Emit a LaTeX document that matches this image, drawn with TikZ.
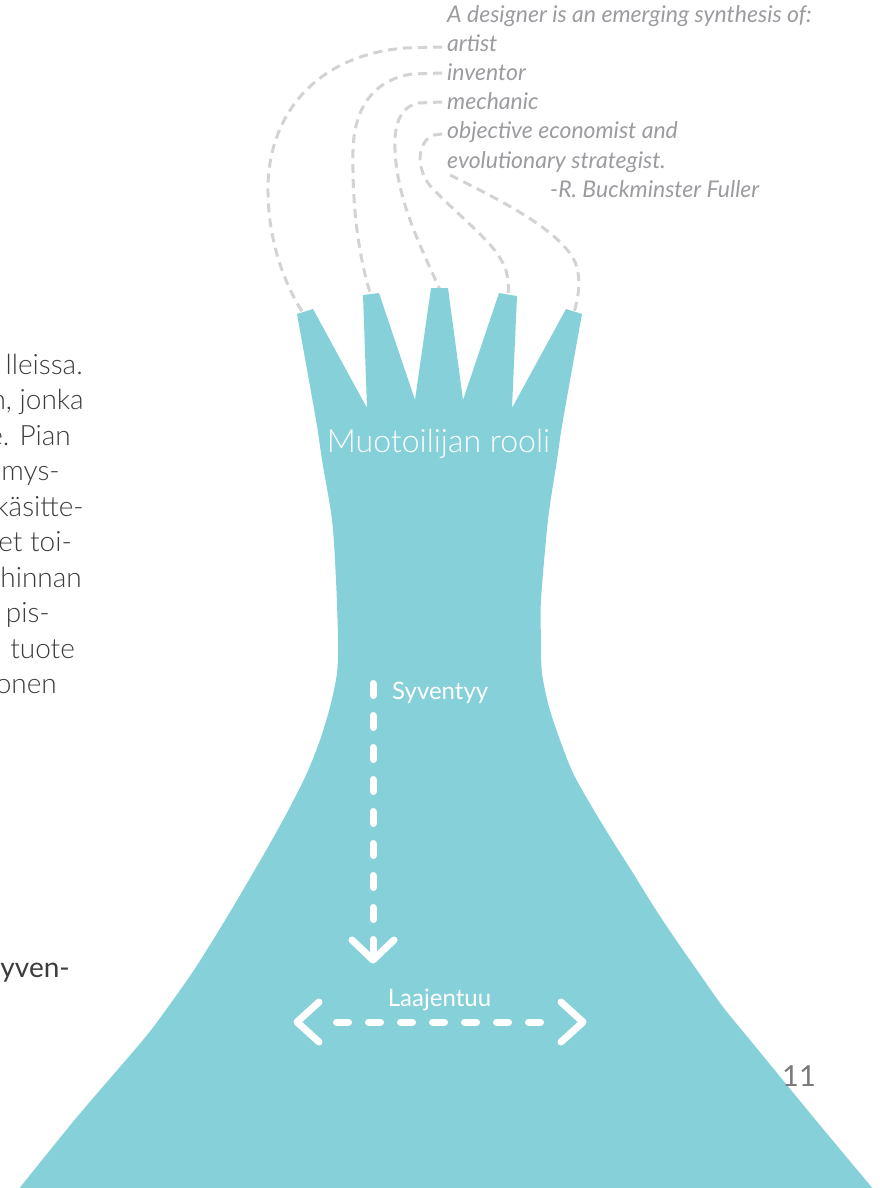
\documentclass[tikz,border=0pt]{standalone}
\usepackage{fontspec}
\setmainfont{Lato}
\newfontfamily\lightfont{Lato Light}
\definecolor{vase}{HTML}{86D1D9}
\definecolor{linkgray}{HTML}{D3D3D3}
\definecolor{quotegray}{HTML}{9B9BA0}
\definecolor{bodytext}{HTML}{3C3C3C}
\definecolor{pagegray}{HTML}{7A7A7A}
\newcommand\qfont{\fontsize{23}{28}\selectfont\itshape}
\newcommand\bfontx{\lightfont\fontsize{28}{33}\selectfont}
\tikzset{
  link/.style={draw=linkgray, line width=3pt, dash pattern=on 9pt off 6pt},
  quote/.style={inner sep=0pt, text=quotegray, font=\qfont, anchor=base west},
  para/.style={inner sep=0pt, text=bodytext, font=\bfontx, anchor=base east},
  arrowline/.style={draw=white, line width=7pt, line cap=round, line join=round},
  arrowshaft/.style={arrowline, dash pattern=on 12pt off 20pt},
  label/.style={inner sep=0pt, text=white, font=\fontsize{24}{28}\selectfont},
}
\begin{document}
\begin{tikzpicture}[x=1pt,y=-1pt]
\useasboundingbox (0,0) rectangle (880,1188);
\clip (0,0) rectangle (880,1188);

% quote
\node[quote] (q0) at (447,23) {A designer is an emerging synthesis of:};
\node[quote] (q1) at (447,52) {artist};
\node[quote] (q2) at (447,81) {inventor};
\node[quote] (q3) at (447,110) {mechanic};
\node[quote] (q4) at (447,139) {objective economist and};
\node[quote] (q5) at (447,168) {evolutionary strategist.};
\node[quote] (q6) at (550,197) {-R. Buckminster Fuller};

% connector end points
\coordinate (c1) at (442,47);
\coordinate (c2) at (442,73);
\coordinate (c3) at (442,102);
\coordinate (c4) at (442,134);
\coordinate (c5) at (450,175);
\coordinate (f1) at (303,313);
\coordinate (f2) at (371,296);
\coordinate (f3) at (440,290);
\coordinate (f4) at (508,296);
\coordinate (f5) at (574,313);

\draw[link] (c1) -- (405,48) .. controls (320,55) and (270,110) .. (268,185)
  .. controls (267,240) and (285,285) .. (f1);
\draw[link] (c2) -- (412,74) .. controls (372,80) and (354,110) .. (353,150)
  .. controls (352,215) and (360,260) .. (f2);
\draw[link] (c3) -- (418,103) .. controls (398,108) and (394,128) .. (395,150)
  .. controls (397,200) and (420,245) .. (f3);
\draw[link] (c4) -- (434,135) .. controls (418,140) and (414,168) .. (432,188)
  .. controls (455,212) and (490,240) .. (500,258)
  .. controls (508,270) and (509,282) .. (f4);
\draw[link] (c5) .. controls (500,200) and (560,230) .. (575,262)
  .. controls (582,280) and (578,298) .. (f5);

% vase shape
\fill[vase] (297,314) -- (313,309) -- (367,408) -- (363,295) -- (379,293)
  -- (415,400) -- (431,288) -- (448,288) -- (463,400) -- (499,293)
  -- (517,296) -- (512,408) -- (566,309) -- (582,314)
  -- plot[smooth] coordinates {(582,314) (563,420) (557,460) (548,520) (541,600)
     (541,640) (542,673) (549,707) (560,740) (573,773) (592,807) (612,840)
     (633,873) (654,907) (676,940) (699,973) (723,1007) (750,1040) (814,1118) (874,1190)}
  -- plot[smooth] coordinates {(18,1190) (77,1117) (143,1040) (168,1007) (192,973)
     (213,940) (233,907) (253,873) (272,840) (290,807) (307,773) (320,740)
     (330,707) (337,673) (338,640) (336,580) (332,520) (322,460) (316,420) (297,314)}
  -- cycle;

\node[inner sep=0pt, text=white, font=\lightfont\fontsize{32}{38}\selectfont, anchor=base]
  (title) at (438.5,452) {Muotoilijan rooli};

% arrows
\coordinate (sA) at (373,683.5);
\coordinate (sB) at (373,960);
\draw[arrowshaft] (sA) -- (sB);
\draw[arrowline] ([shift={(-21,-20)}]sB) -- (sB) -- ([shift={(21,-20)}]sB);
\node[label, anchor=base west] (syv) at (392,699) {Syventyy};

\coordinate (lA) at (297,1022);
\coordinate (lB) at (583,1022);
\draw[arrowshaft, shorten <=39.5pt, shorten >=38pt] (lA) -- (lB);
\draw[arrowline] ([shift={(22,-20)}]lA) -- (lA) -- ([shift={(22,20)}]lA);
\draw[arrowline] ([shift={(-22,-20)}]lB) -- (lB) -- ([shift={(-22,20)}]lB);
\node[label, anchor=base] (laa) at (439.5,1006) {Laajentuu};

% page number
\node[inner sep=0pt, text=pagegray, font=\fontsize{29}{34}\selectfont, anchor=base west]
  (pg) at (782,1086) {11};

% cut-off paragraph on the left
\node[para] (p1) at (83,374) {lleissa.};
\node[para] (p2) at (84,409.5) {n, jonka};
\node[para] (p3) at (71,445) {e. Pian};
\node[para] (p4) at (60,480.5) {mys-};
\node[para] (p5) at (84,516) {käsitte-};
\node[para] (p6) at (72,551.5) {et toi-};
\node[para] (p7) at (82,587) {hinnan};
\node[para] (p8) at (50,622.5) {pis-};
\node[para] (p9) at (75,658) {tuote};
\node[para] (p10) at (57,693.5) {onen};
\node[inner sep=0pt, text=bodytext, font=\fontsize{28}{32}\selectfont, anchor=base east]
  (p11) at (70,977) {yven-};
\end{tikzpicture}
\end{document}
